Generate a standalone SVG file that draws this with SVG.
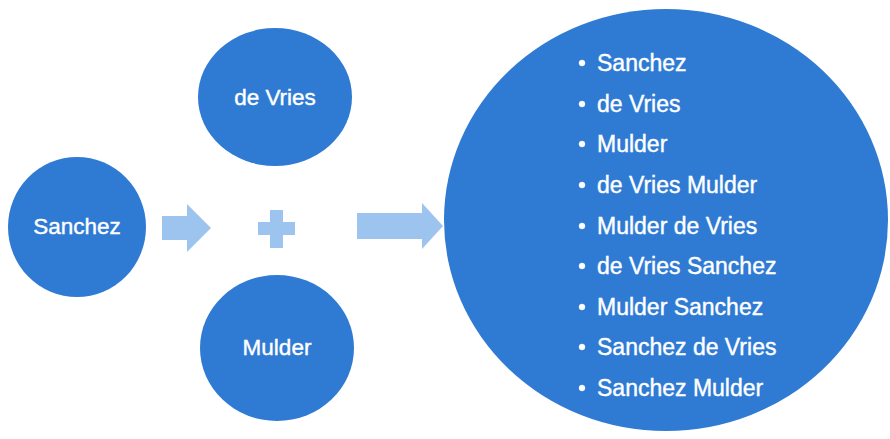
<svg xmlns="http://www.w3.org/2000/svg" width="890" height="439" viewBox="0 0 890 439">
<style>
.node{fill:#2f7bd4;}
.lbl{font-family:"Liberation Sans",Arial,sans-serif;font-size:22.5px;fill:#ffffff;stroke:#ffffff;stroke-width:0.4;text-anchor:middle;}
.item{font-family:"Liberation Sans",Arial,sans-serif;font-size:23px;fill:#ffffff;stroke:#ffffff;stroke-width:0.4;}
.conn{fill:#9dc3ef;}
</style>
<rect width="890" height="439" fill="#ffffff"/>
<g id="node-sanchez">
<ellipse class="node" cx="77" cy="227" rx="69" ry="70"/>
<text class="lbl" x="77" y="234">Sanchez</text>
</g>
<g id="node-devries">
<ellipse class="node" cx="275" cy="97" rx="77" ry="69"/>
<text class="lbl" x="275" y="105">de Vries</text>
</g>
<g id="node-mulder">
<ellipse class="node" cx="277" cy="348" rx="77" ry="73"/>
<text class="lbl" x="277" y="355">Mulder</text>
</g>
<g id="node-result">
<ellipse class="node" cx="666" cy="220" rx="222" ry="211"/>
<g class="item">
<circle cx="582" cy="63" r="3"/><text x="597" y="71">Sanchez</text>
<circle cx="582" cy="104" r="3"/><text x="597" y="112">de Vries</text>
<circle cx="582" cy="144" r="3"/><text x="597" y="152">Mulder</text>
<circle cx="582" cy="185" r="3"/><text x="597" y="193">de Vries Mulder</text>
<circle cx="582" cy="226" r="3"/><text x="597" y="234">Mulder de Vries</text>
<circle cx="582" cy="266" r="3"/><text x="597" y="274">de Vries Sanchez</text>
<circle cx="582" cy="307" r="3"/><text x="597" y="315">Mulder Sanchez</text>
<circle cx="582" cy="347" r="3"/><text x="597" y="355">Sanchez de Vries</text>
<circle cx="582" cy="388" r="3"/><text x="597" y="396">Sanchez Mulder</text>
</g>
</g>
<g id="connectors">
<polygon class="conn" points="162,216 187,216 187,204 211,228 187,252 187,240 162,240"/>
<polygon class="conn" points="258,222 270,222 270,210 283,210 283,222 295,222 295,235 283,235 283,248 270,248 270,235 258,235"/>
<polygon class="conn" points="357,213 422,213 422,203 443,226 422,249 422,239 357,239"/>
</g>
</svg>
